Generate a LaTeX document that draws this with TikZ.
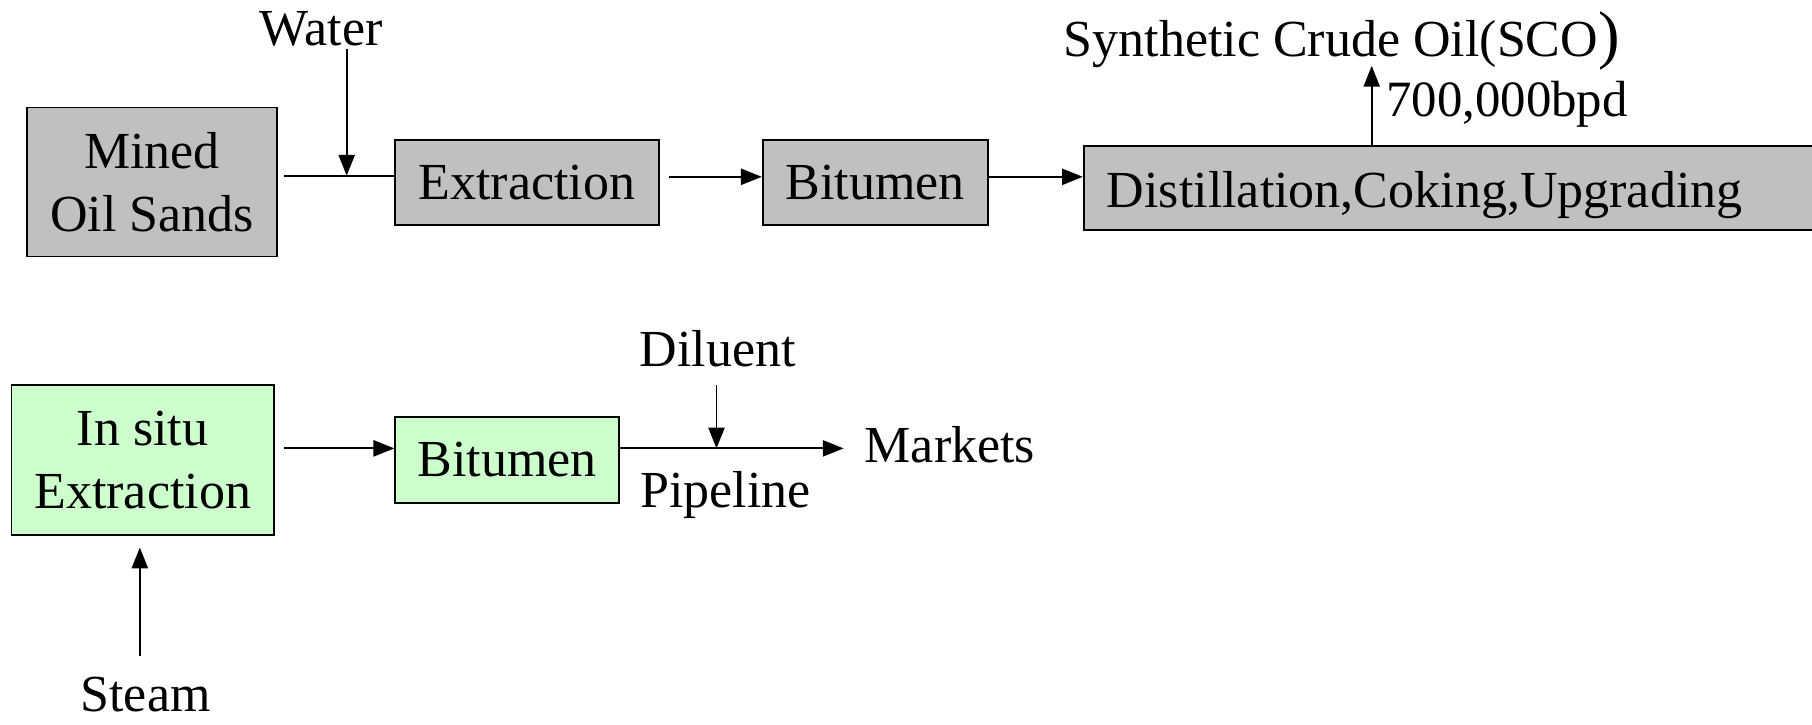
\documentclass[tikz,border=0pt]{standalone}
\usepackage{fontspec}
\setmainfont{Liberation Serif}
\usetikzlibrary{arrows.meta,calc}
\definecolor{boxgray}{RGB}{192,192,192}
\definecolor{boxgreen}{RGB}{204,255,204}
\begin{document}
\begin{tikzpicture}[x=0.5pt,y=-0.5pt,
  every node/.style={font=\fontsize{22.5}{27.5}\selectfont, inner sep=0pt},
  graybox/.style={draw=black, line width=0.8pt, fill=boxgray, align=center},
  greenbox/.style={draw=black, line width=0.8pt, fill=boxgreen, align=center},
  lbl/.style={align=center},
  conn/.style={line width=0.8pt},
  arr/.style={line width=0.8pt, -{Triangle[length=9pt,width=7pt]}}]
\useasboundingbox (0,0) rectangle (1568,627);
\clip (0,0) rectangle (1568,627);
\fill[white] (0,0) rectangle (1568,627);
% top row
\node[graybox, minimum width=108.5pt, minimum height=64.5pt] (mined) at (131.5,157.5) {Mined\\Oil Sands};
\node[graybox, minimum width=114pt, minimum height=37pt] (ext) at (456,158) {Extraction};
\node[graybox, minimum width=97.5pt, minimum height=37pt] (bit) at (757.5,158) {Bitumen};
\node[graybox, minimum height=36.5pt, text width=311.5pt, text height=20pt, text depth=3pt, inner xsep=10pt, align=left, anchor=west] (dist) at (937,162.5) {Distillation,Coking,Upgrading};
\node[lbl] (water) at (278,25) {Water};
\node[lbl] (sco) at (1161,35) {Synthetic Crude Oil(SCO{\fontsize{28}{30}\selectfont)}};
\node[lbl] (bpd) at (1304,90) {\fontsize{22}{26}\selectfont 700,000bpd};
\coordinate (jw) at (300,152);
\coordinate (sc) at (1187,57);
\draw[conn] ([xshift=2.5pt]mined.east |- jw) -- (ext.west |- jw);
\draw[arr] (jw |- water.south) ++(0,2) -- (jw);
\draw[arr] ([xshift=4pt,yshift=2.5pt]ext.east) -- ([yshift=2.5pt]ext.east -| bit.west);
\draw[arr] ([yshift=2.5pt]bit.east) -- ([yshift=2.5pt]bit.east -| dist.west);
\draw[arr] (sc |- dist.north) -- (sc);
% bottom row
\node[greenbox, minimum width=113.5pt, minimum height=65pt] (insitu) at (123.5,398) {In situ\\Extraction};
\node[greenbox, minimum width=97pt, minimum height=37pt] (bit2) at (439,398) {Bitumen};
\node[lbl] (diluent) at (621,302) {Diluent};
\node[lbl] (pipeline) at (628,428) {Pipeline};
\node[lbl] (markets) at (822,385) {Markets};
\node[lbl] (steam) at (126,601) {Steam};
\coordinate (dj) at (620,388);
\coordinate (mk) at (730,388);
\coordinate (st) at (121,568);
\draw[arr] ([xshift=4pt,yshift=5pt]insitu.east) -- ([yshift=5pt]insitu.east -| bit2.west);
\draw[arr] (bit2.east |- dj) -- (mk);
\draw[arr] (dj |- 0,333) -- (dj);
\draw[arr] (st) -- ([yshift=-5pt]st |- insitu.south);
\end{tikzpicture}
\end{document}
